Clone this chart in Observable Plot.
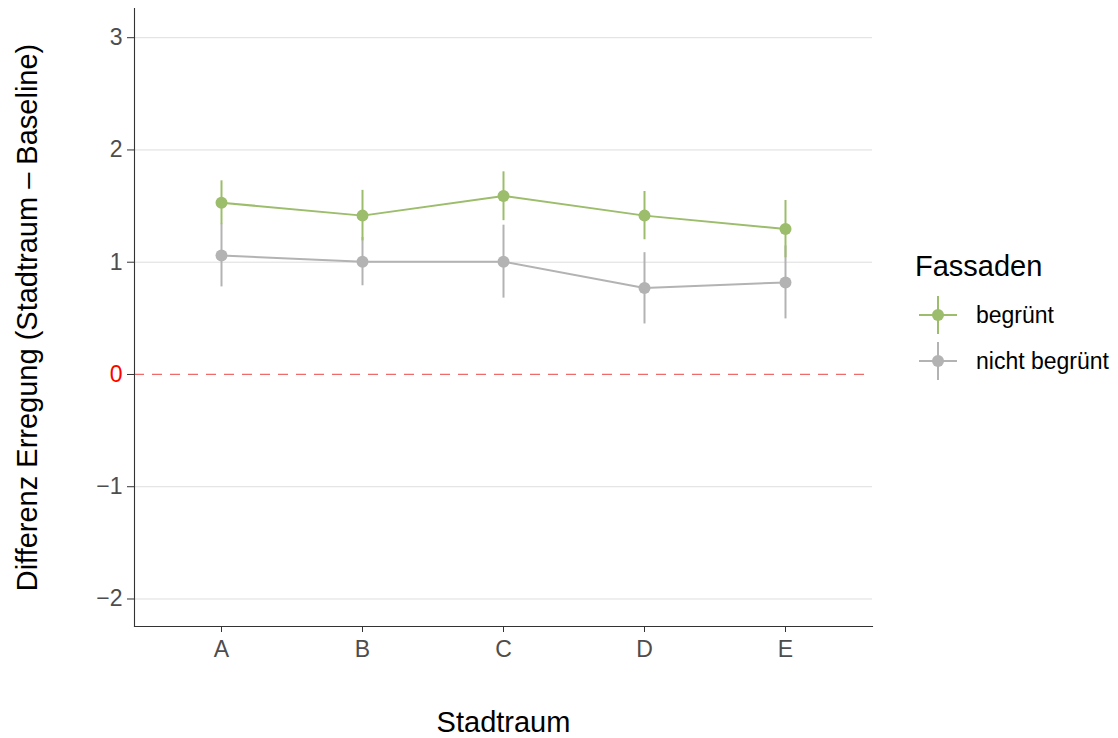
<!DOCTYPE html>
<html>
<head>
<meta charset="utf-8">
<script src="https://cdn.jsdelivr.net/npm/d3@7"></script>
<script src="https://cdn.jsdelivr.net/npm/@observablehq/plot@0.6"></script>
<style>
  body { margin: 0; background: #fff; font-family: "Liberation Sans", Arial, Helvetica, sans-serif; }
  #wrap { position: relative; width: 1118px; height: 738px; }
  #legend { position: absolute; left: 0; top: 0; }
</style>
</head>
<body>
<div id="wrap"></div>
<script>
// Stadträume and facade groups
const stadtraum = ["A", "B", "C", "D", "E"];
const gruppen = ["begrünt", "nicht begrünt"];
const farben = ["#9cbd6b", "#b3b3b3"];

// Mean difference in arousal (Stadtraum − Baseline) with error-bar bounds
const begruentMittel = [1.53, 1.415, 1.59, 1.415, 1.295];
const begruentUnten  = [1.335, 1.19, 1.37, 1.20, 1.04];
const begruentOben   = [1.725, 1.64, 1.805, 1.63, 1.55];

const nichtMittel = [1.06, 1.005, 1.005, 0.77, 0.82];
const nichtUnten  = [0.78, 0.79, 0.68, 0.45, 0.495];
const nichtOben   = [1.34, 1.22, 1.33, 1.085, 1.145];

const yTicks = [-2, -1, 0, 1, 2, 3];

const rows = [];
stadtraum.forEach((s, i) => {
  rows.push({stadtraum: s, gruppe: gruppen[0], mittel: begruentMittel[i], lo: begruentUnten[i], hi: begruentOben[i]});
  rows.push({stadtraum: s, gruppe: gruppen[1], mittel: nichtMittel[i], lo: nichtUnten[i], hi: nichtOben[i]});
});
// draw grey first so the green series sits on top
const order = [gruppen[1], gruppen[0]];
const sorted = order.flatMap(g => rows.filter(r => r.gruppe === g));

const minus = d => d < 0 ? "\u2212" + Math.abs(d) : String(d);
const tickFont = 23;

const chart = Plot.plot({
  width: 1118,
  height: 738,
  marginLeft: 134,
  marginRight: 246,
  marginTop: 8,
  marginBottom: 112,
  style: {fontFamily: "'Liberation Sans', Arial, Helvetica, sans-serif", fontSize: tickFont + "px", background: "#fff"},
  x: {type: "point", domain: stadtraum, padding: 0.6, axis: null},
  y: {domain: [-2.245, 3.26], axis: null},
  color: {domain: gruppen, range: farben},
  marks: [
    Plot.gridY(yTicks.filter(t => t !== 0), {stroke: "#dedede", strokeOpacity: 1, strokeWidth: 1}),
    Plot.ruleY([0], {stroke: "#f06a6a", strokeDasharray: "10,8", strokeWidth: 1.3}),
    Plot.axisY(yTicks.filter(t => t !== 0), {
      tickSize: 7, tickPadding: 5, fontSize: tickFont, color: "#4d4d4d", stroke: "#333",
      tickFormat: minus, label: null
    }),
    Plot.axisY([0], {tickSize: 7, tickPadding: 5, fontSize: tickFont, color: "red", stroke: "#333", tickFormat: d => String(d), label: null}),
    Plot.axisX(stadtraum, {tickSize: 6, tickPadding: 8, fontSize: tickFont, color: "#4d4d4d", stroke: "#333", label: null}),
    Plot.frame({anchor: "left", stroke: "#333", strokeWidth: 1.1}),
    Plot.frame({anchor: "bottom", stroke: "#333", strokeWidth: 1.1}),
    Plot.line(sorted, {x: "stadtraum", y: "mittel", z: "gruppe", stroke: "gruppe", strokeWidth: 2}),
    Plot.ruleX(sorted, {x: "stadtraum", y1: "lo", y2: "hi", stroke: "gruppe", strokeWidth: 2}),
    Plot.dot(sorted, {x: "stadtraum", y: "mittel", fill: "gruppe", r: 6, stroke: null}),
    Plot.text(["Stadtraum"], {frameAnchor: "bottom", dy: 105, fontSize: 29, fill: "#000"}),
    Plot.text(["Differenz Erregung (Stadtraum \u2013 Baseline)"], {
      frameAnchor: "left", textAnchor: "middle", dx: -107, rotate: -90, fontSize: 29, fill: "#000"
    })
  ]
});
document.getElementById("wrap").appendChild(chart);

// legend for the facade groups, laid over the right margin
const ns = "http://www.w3.org/2000/svg";
const legend = document.createElementNS(ns, "svg");
legend.setAttribute("id", "legend");
legend.setAttribute("width", 1118);
legend.setAttribute("height", 738);
legend.style.pointerEvents = "none";
let inner = `<text x="915" y="276" font-size="29" fill="#000" font-family="'Liberation Sans', Arial, sans-serif">Fassaden</text>`;
const keyY = [315, 361];
gruppen.forEach((g, i) => {
  const cy = keyY[i];
  inner +=
    `<line x1="919" x2="957" y1="${cy}" y2="${cy}" stroke="${farben[i]}" stroke-width="2"/>` +
    `<line x1="938" x2="938" y1="${cy - 19}" y2="${cy + 19}" stroke="${farben[i]}" stroke-width="2"/>` +
    `<circle cx="938" cy="${cy}" r="6" fill="${farben[i]}"/>` +
    `<text x="976" y="${cy + 8}" font-size="23" fill="#000" font-family="'Liberation Sans', Arial, sans-serif">${g}</text>`;
});
legend.innerHTML = inner;
document.getElementById("wrap").appendChild(legend);
</script>
</body>
</html>
